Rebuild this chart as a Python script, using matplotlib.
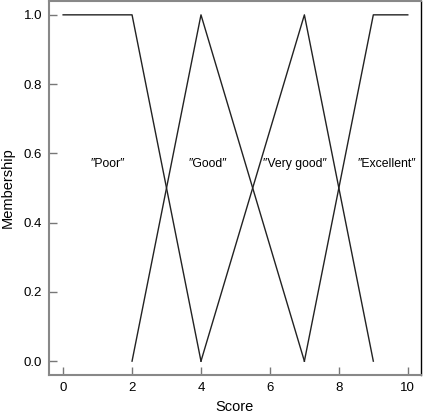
import matplotlib
matplotlib.use("Agg")
import matplotlib.pyplot as plt

plt.rcParams['font.family'] = ['Liberation Sans', 'DejaVu Sans']

# membership functions (score, membership)
poor_x = [0, 2, 4]
poor_y = [1, 1, 0]
good_x = [2, 4, 7]
good_y = [0, 1, 0]
vgood_x = [4, 7, 9]
vgood_y = [0, 1, 0]
exc_x = [7, 9, 10]
exc_y = [0, 1, 1]

labels = ['\u2033Poor\u2033', '\u2033Good\u2033', '\u2033Very good\u2033', '\u2033Excellent\u2033']
label_x = [1.30, 4.2, 6.72, 9.38]
label_y = 0.57

xticks = [0, 2, 4, 6, 8, 10]
yticks = [0.0, 0.2, 0.4, 0.6, 0.8, 1.0]

fig = plt.figure(figsize=(4.23, 4.13), dpi=100)
ax = fig.add_axes([0.1158, 0.092, 0.8792, 0.9056])

for xs, ys in [(poor_x, poor_y), (good_x, good_y), (vgood_x, vgood_y), (exc_x, exc_y)]:
    ax.plot(xs, ys, color='#222222', lw=1.0)

for t, x in zip(labels, label_x):
    ax.text(x, label_y, t, ha='center', va='center', fontsize=8.8)

ax.set_xlim(-0.41, 10.38)
ax.set_ylim(-0.04, 1.04)
ax.set_xticks(xticks)
ax.set_xticklabels([str(v) for v in xticks])
ax.set_yticks(yticks)
ax.set_yticklabels(['%.1f' % v for v in yticks])
ax.tick_params(direction='in', length=6, width=1, color='#777777', labelsize=9.5, pad=5)
for s in ['left', 'bottom', 'top']:
    ax.spines[s].set_color('#888888')
    ax.spines[s].set_linewidth(1.5)
ax.spines['right'].set_color('black')
ax.spines['right'].set_linewidth(1.0)

ax.set_xlabel('Score', fontsize=10.5, labelpad=4)
ax.set_ylabel('Membership', fontsize=10.5, labelpad=6)

fig.savefig('out.png', dpi=100)
